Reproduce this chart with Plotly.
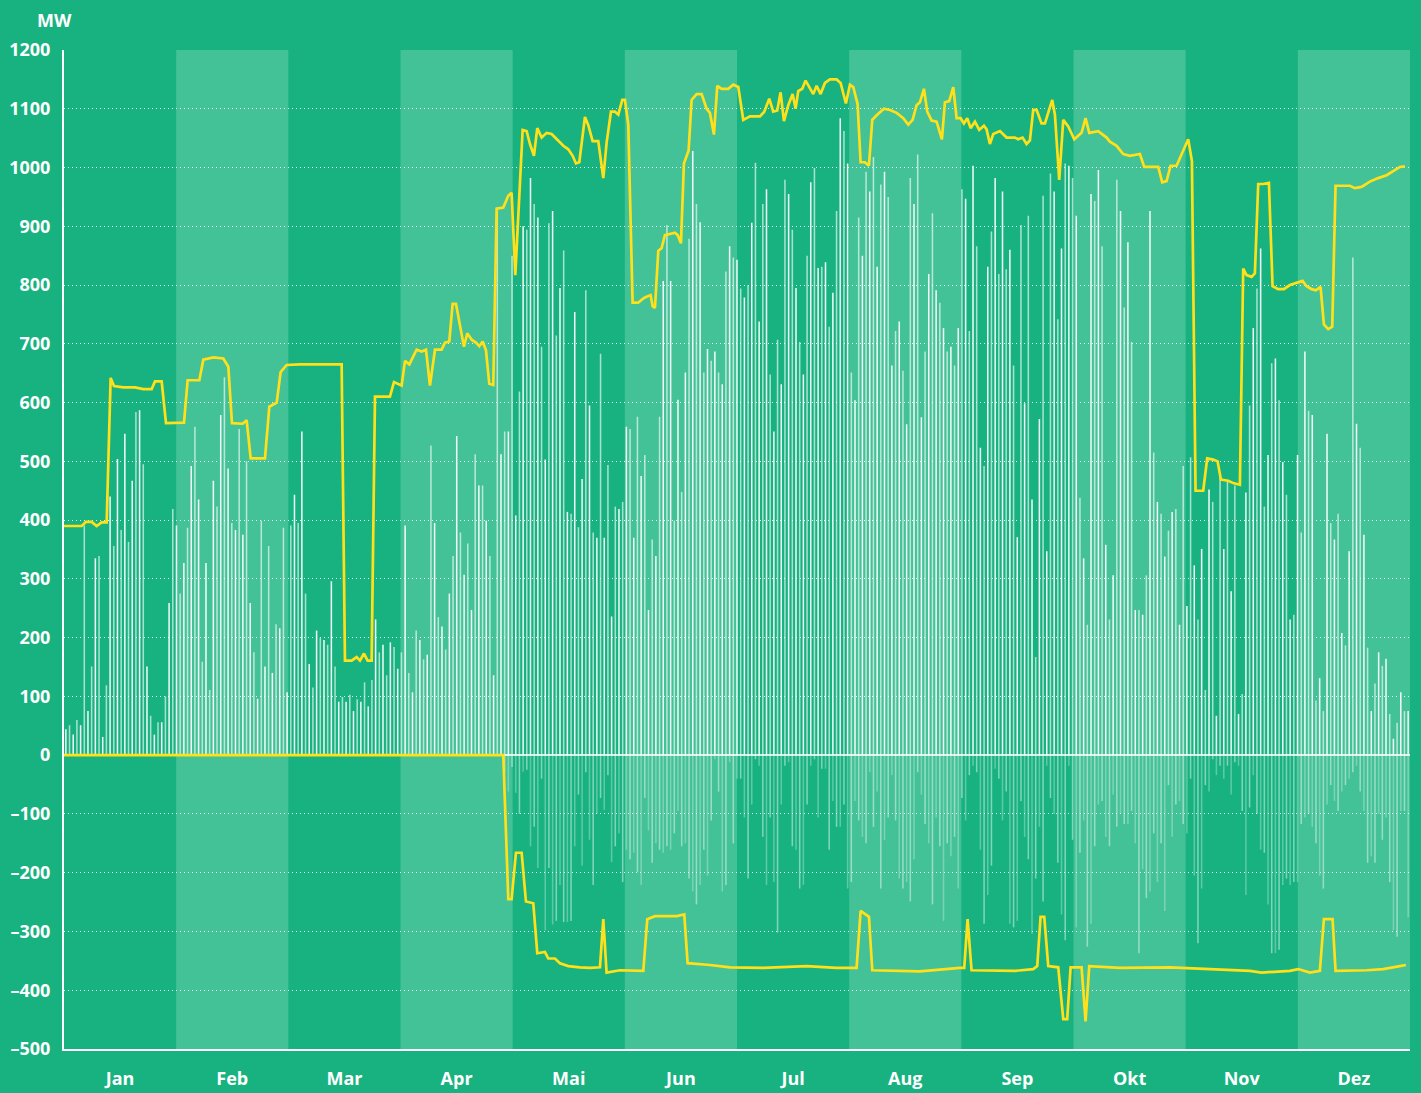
import plotly.graph_objects as go

months = ["Jan", "Feb", "Mar", "Apr", "Mai", "Jun", "Jul", "Aug", "Sep", "Okt", "Nov", "Dez"]
y_tick_vals = [1200, 1100, 1000, 900, 800, 700, 600, 500, 400, 300, 200, 100, 0, -100, -200, -300, -400, -500]
y_tick_text = ["1200", "1100", "1000", "900", "800", "700", "600", "500", "400", "300", "200", "100", "0",
               "–100", "–200", "–300", "–400", "–500"]

# daily positive values (MW), one per day of the year
pos_vals = [
    44, 51, 35, 60, 51, 391, 75, 151, 335, 339, 31, 119, 440, 356, 504, 383, 547, 363, 467, 584, 587, 495, 151, 67,
    35, 56, 56, 100, 259, 419, 391, 275, 327, 387, 492, 559, 435, 159, 327, 111, 467, 423, 579, 643, 488, 395, 383,
    555, 375, 500, 259, 175, 96, 399, 151, 356, 140, 223, 216, 387, 107, 391, 443, 395,
    551, 275, 155, 115, 212, 200, 196, 188, 296, 151, 91, 99, 91, 103, 75, 95, 91, 124, 83, 128, 231, 175, 188, 136,
    192, 184, 147, 175, 391, 140, 107, 212, 196, 163, 171, 527, 395, 235, 219, 180, 275, 339, 543, 379, 307, 360,
    247, 512, 459, 459, 399, 339, 136, 932, 512, 551, 551, 850, 408, 619,
    900, 894, 982, 938, 915, 695, 503, 905, 926, 714, 795, 859, 414, 411, 754, 388, 470, 791, 595, 379, 370, 683,
    370, 494, 236, 423, 419, 431, 559, 555, 370,
    576, 475, 511, 247, 367, 339, 576, 807, 902, 807, 399, 605, 448, 651, 879, 1028, 938, 907, 651, 691, 671, 687,
    651, 631, 823, 866, 847, 843, 794, 779, 800, 906, 1008, 738, 938, 963, 648, 551, 707, 631, 979, 955, 894, 795,
    703, 648, 850, 975, 999, 829, 831, 839,
    729, 787, 926, 1084, 1062, 1007, 651, 604, 915, 850, 993, 959, 1018, 831, 971, 993, 950, 663, 722, 738, 654,
    563, 982, 938, 1022, 575, 687, 819, 922, 791, 770, 727, 687, 695, 663, 727, 963, 947, 722, 1003, 866, 523, 492,
    831, 891, 982, 819, 959, 827, 860, 663, 371,
    902, 599, 918, 435, 167, 572, 952, 347, 990, 959, 742, 862, 1007, 1003, 982, 918, 438, 335, 222, 955, 943, 996,
    866, 358, 231, 306, 979, 926, 762, 873, 703, 247, 247, 239, 306, 926, 515, 431, 411, 338, 382, 414, 419, 222,
    492, 254, 507, 323, 231, 351, 111,
    452, 431, 67, 475, 351, 467, 279, 459, 70, 104, 447, 595, 727, 794, 862, 423, 511, 667, 675, 604, 499, 443, 231,
    239, 511, 379, 687, 586, 579, 93, 131, 75, 547, 395, 367, 411, 208, 187, 347, 847, 564, 523, 375, 183, 75, 122,
    175, 152, 164, 70, 28, 55, 107, 75, 75,
]

# daily negative values (MW), starting with day index neg_start_day
neg_start_day = 119
neg_vals = [
    -30, -62, -20, -64, -100, -28, -25, -155, -122, -192, -40, -298, -192, -288, -282, -221, -284, -284, -282, -155,
    -67, -188, -29, -144, -221, -100, -73, -93, -34, -182, -155, -133, -216, -161, -177,
    -166, -199, -221, -73, -128, -183, -150, -161, -166, -155, -161, -133, -95, -155, -150, -210, -232, -254, -221,
    -161, -205, -111, -7, -62, -232, -221, -12, -150, -40, -40, -106, -210, -84, -7, -18, -139, -221, -106, -216,
    -302, -84, -18, -12, -155, -161, -227, -221, -84, -18, -7, -106, -23, -23,
    -161, -78, -122, -122, -84, -227, -216, -78, -111, -139, -150, -29, -122, -62, -227, -144, -106, -34, -111, -210,
    -227, -216, -249, -177, -29, -67, -117, -150, -254, -106, -155, -282, -150, -172, -139, -227, -73, -111, -34,
    -18, -29, -161, -287, -238, -188, -23, -40, -111, -62, -287, -293, -282,
    -78, -139, -177, -304, -210, -122, -249, -18, -73, -100, -183, -271, -315, -18, -144, -293, -166, -111, -326,
    -287, -155, -84, -78, -139, -155, -67, -122, -100, -117, -117, -95, -150, -337, -194, -243, -232, -133, -216,
    -150, -265, -51, -139, -84, -78, -117, -133, -40, -205, -320, -227, -51,
    -62, -7, -34, -18, -40, -18, -67, -12, -18, -95, -238, -89, -34, -100, -161, -166, -254, -337, -337, -331, -221,
    -210, -221, -216, -216, -117, -106, -100, -122, -150, -205, -227, -84, -51, -78, -95, -62, -51, -40, -29, -18,
    -62, -95, -183, -172, -183, -100, -144, -106, -216, -298, -309, -95, -95, -276,
]

# upper yellow line: (day of year, MW)
upper_pts = [
    (0, 390), (4.79, 390), (5.97, 397), (7.50, 397), (8.86, 390), (10.21, 396), (11.57, 396), (12.65, 642),
    (13.56, 628), (16.09, 626), (19.25, 626), (21.51, 623), (23.77, 623), (24.67, 636), (26.48, 636), (27.66, 565),
    (32.54, 566), (33.53, 638), (36.70, 638), (37.78, 673), (40.49, 677), (43.20, 675), (44.56, 661), (45.55, 565),
    (48.45, 564), (49.53, 570), (50.62, 505), (54.50, 505), (55.68, 593), (57.67, 600), (58.75, 652), (60.37, 664),
    (63.99, 665), (75.29, 665), (76.19, 161), (78.00, 161), (79.36, 167), (80.26, 161), (81.34, 173), (82.34, 161),
    (83.42, 161), (84.33, 610), (88.39, 610), (89.48, 635), (91.56, 629), (92.46, 671), (93.64, 665), (95.63, 690),
    (96.98, 687), (98.16, 690), (99.24, 629), (100.60, 690), (102.40, 690), (103.31, 702), (104.48, 704),
    (105.39, 768), (106.29, 768), (107.38, 731), (108.46, 695), (109.36, 718), (110.54, 707), (111.71, 702),
    (112.62, 696), (113.52, 704), (114.43, 689), (115.33, 632), (116.41, 630), (117.32, 930), (119.12, 932),
    (120.48, 952), (121.38, 957), (122.38, 817), (123.28, 935), (124.37, 1064), (125.45, 1062), (126.36, 1040),
    (127.44, 1020), (128.34, 1067), (129.52, 1051), (130.88, 1059), (132.23, 1057), (134.04, 1045), (135.40, 1037),
    (136.75, 1031), (137.93, 1020), (138.83, 1007), (139.73, 1009), (141.27, 1086), (142.17, 1072), (143.35, 1045),
    (144.88, 1045), (146.24, 982), (147.14, 1042), (148.32, 1095), (149.40, 1095), (150.31, 1090), (151.39, 1115),
    (152.11, 1115), (153.02, 1073), (154.19, 770), (155.73, 770), (156.64, 775), (157.54, 779), (159.07, 783),
    (159.62, 764), (160.25, 761), (161.15, 858), (162.06, 863), (162.96, 885), (165.67, 889), (166.40, 885),
    (167.30, 871), (168.11, 1007), (169.38, 1029), (170.19, 1115), (171.55, 1125), (172.91, 1125), (174.26, 1100),
    (175.16, 1093), (176.25, 1056), (177.15, 1139), (178.33, 1134), (180.13, 1134), (181.49, 1141), (182.85, 1137),
    (184.20, 1081), (186.01, 1087), (188.72, 1087), (189.89, 1095), (191.25, 1117), (192.33, 1095), (193.42, 1097),
    (194.32, 1128), (195.23, 1079), (196.40, 1106), (197.58, 1125), (198.39, 1100), (199.11, 1130), (200.20, 1134),
    (201.10, 1148), (202.10, 1137), (203.18, 1125), (204.09, 1139), (205.17, 1125), (206.35, 1144), (207.70, 1150),
    (209.51, 1150), (210.59, 1144), (212.04, 1109), (213.12, 1141), (214.03, 1137), (215.20, 1108), (216.02, 1009),
    (217.19, 1009), (218.28, 1003), (219.18, 1081), (220.36, 1089), (222.34, 1100), (223.97, 1098), (225.78, 1093),
    (227.58, 1084), (228.94, 1073), (230.12, 1081), (231.20, 1106), (232.10, 1111), (233.19, 1134), (234.09, 1095),
    (235.27, 1080), (236.62, 1078), (238.07, 1048), (238.88, 1111), (240.06, 1113), (241.14, 1137), (242.05, 1084),
    (243.13, 1084), (244.03, 1075), (244.94, 1084), (245.84, 1067), (247.02, 1078), (248.19, 1064), (249.46, 1071),
    (250.18, 1065), (251.08, 1040), (251.99, 1057), (253.80, 1062), (255.61, 1051), (257.86, 1051), (258.77, 1048),
    (259.94, 1051), (261.03, 1040), (261.93, 1046), (262.83, 1098), (263.74, 1098), (265.09, 1075), (266.00, 1075),
    (266.90, 1095), (267.98, 1115), (268.71, 1090), (269.88, 979), (270.97, 1081), (272.32, 1070), (273.95, 1048),
    (275.94, 1059), (277.02, 1084), (278.02, 1059), (280.46, 1062), (282.72, 1051), (283.62, 1044), (285.43, 1037),
    (287.24, 1023), (289.05, 1020), (291.76, 1023), (292.93, 1001), (296.73, 1001), (297.81, 975), (298.99, 977),
    (300.07, 1003), (301.70, 1003), (303.51, 1028), (304.86, 1048), (305.86, 1011), (306.85, 450), (308.93, 450),
    (310.01, 505), (311.64, 503), (312.82, 500), (313.72, 469), (315.71, 467), (317.06, 463), (318.87, 460),
    (319.77, 828), (320.68, 817), (322.04, 814), (322.94, 820), (323.84, 972), (325.20, 972), (326.74, 974),
    (327.73, 798), (329.26, 793), (330.80, 793), (332.43, 800), (334.24, 804), (335.86, 807), (336.95, 798),
    (338.31, 793), (339.48, 791), (340.75, 797), (341.65, 733), (342.82, 725), (343.91, 729), (344.81, 969),
    (348.70, 969), (350.05, 965), (351.86, 967), (354.12, 976), (356.38, 982), (358.64, 987), (360.45, 994),
    (362.26, 1001), (363.61, 1002),
]

# lower yellow line: (day of year, MW)
lower_pts = [
    (0, 0), (119.12, 0), (120.48, -245), (121.38, -245), (122.56, -166), (124.10, -166), (125.27, -249),
    (127.26, -252), (128.34, -337), (130.42, -335), (131.33, -346), (133.13, -346), (134.49, -354), (136.75, -359),
    (139.91, -361), (142.62, -362), (145.34, -361), (146.24, -279), (147.14, -370), (150.76, -366), (157.09, -367),
    (158.17, -279), (160.25, -274), (166.13, -274), (168.20, -271), (169.11, -354), (175.16, -357), (180.59, -361),
    (189.63, -362), (201.37, -359), (209.51, -362), (214.93, -362), (216.02, -265), (218.28, -275), (219.18, -366),
    (232.10, -368), (242.95, -362), (244.12, -362), (245.03, -279), (246.11, -366), (257.86, -367), (262.83, -364),
    (263.92, -359), (264.82, -275), (265.82, -275), (266.90, -359), (269.61, -361), (270.97, -449), (272.05, -449),
    (272.96, -361), (275.94, -361), (277.02, -453), (278.02, -359), (286.33, -362), (299.89, -361), (312.54, -364),
    (321.58, -367), (324.75, -370), (332.43, -367), (334.69, -364), (337.85, -370), (340.56, -367), (341.65, -279),
    (344.00, -279), (344.81, -367), (353.22, -366), (357.74, -364), (362.26, -359), (363.88, -357),
]

DAYS_IN_YEAR = 365
BG = "#17B27F"
BAND = "#43C197"
YELLOW = "#FFE01A"
FONT = "Open Sans"

x_pos = [i + 0.5 for i in range(len(pos_vals))]
x_neg = [neg_start_day + i + 0.5 for i in range(len(neg_vals))]
pos_colors = ["rgba(255,255,255,0.92)" if i % 2 == 0 else "rgba(255,255,255,0.62)" for i in range(len(pos_vals))]
neg_colors = ["rgba(255,255,255,0.45)" if i % 2 == 0 else "rgba(255,255,255,0.3)" for i in range(len(neg_vals))]

fig = go.Figure()
fig.add_trace(go.Bar(x=x_pos, y=pos_vals, width=0.42, marker=dict(color=pos_colors, line_width=0),
                     showlegend=False, hoverinfo="skip"))
fig.add_trace(go.Bar(x=x_neg, y=neg_vals, width=0.42, marker=dict(color=neg_colors, line_width=0),
                     showlegend=False, hoverinfo="skip"))
fig.add_trace(go.Scatter(x=[p[0] for p in lower_pts], y=[p[1] for p in lower_pts], mode="lines",
                         line=dict(color=YELLOW, width=2.7), showlegend=False, hoverinfo="skip"))
fig.add_trace(go.Scatter(x=[p[0] for p in upper_pts], y=[p[1] for p in upper_pts], mode="lines",
                         line=dict(color=YELLOW, width=2.7), showlegend=False, hoverinfo="skip"))

month_w = DAYS_IN_YEAR / 12
shapes = []
for k in range(12):
    if k % 2 == 1:
        shapes.append(dict(type="rect", xref="x", yref="y", x0=k * month_w, x1=(k + 1) * month_w,
                           y0=-500, y1=1200, fillcolor=BAND, line=dict(width=0), layer="below"))

fig.update_layout(
    width=1421, height=1093,
    margin=dict(l=64, r=11, t=50, b=44),
    paper_bgcolor=BG, plot_bgcolor=BG,
    barmode="overlay",
    shapes=shapes,
    font=dict(family=FONT, color="white"),
    xaxis=dict(range=[0, DAYS_IN_YEAR], showgrid=False, zeroline=False, automargin=False,
               tickvals=[(k + 0.5) * month_w for k in range(12)], ticktext=months,
               ticks="", showline=True, linecolor="white", linewidth=2,
               tickfont=dict(family=FONT, size=18, color="white", weight="bold"),
               ticklabelstandoff=12, fixedrange=True),
    yaxis=dict(range=[-500, 1200], tickvals=y_tick_vals, ticktext=y_tick_text, automargin=False,
               showgrid=True, gridcolor="rgba(255,255,255,0.9)", griddash="1px,3px", gridwidth=1,
               zeroline=True, zerolinecolor="rgba(255,255,255,0.8)", zerolinewidth=1.5,
               ticks="", showline=True, linecolor="white", linewidth=2,
               tickfont=dict(family=FONT, size=18, color="white", weight="bold"),
               ticklabelstandoff=8, fixedrange=True),
    annotations=[dict(text="MW", xref="paper", yref="paper", x=-0.0215, y=1.030,
                      xanchor="left", yanchor="middle", showarrow=False,
                      font=dict(family=FONT, size=18, color="white", weight="bold"))],
)

fig.write_html("out.html", config={"displayModeBar": False},
               post_script="document.body.style.margin='0';document.body.style.background='%s';" % BG)
